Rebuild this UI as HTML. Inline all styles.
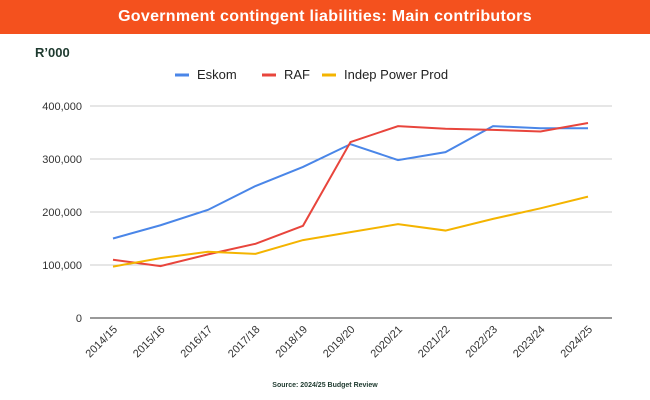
<!DOCTYPE html>
<html><head><meta charset="utf-8"><style>
body{margin:0;background:#fff;font-family:"Liberation Sans",sans-serif}
#wrap{width:650px;height:400px;position:relative;overflow:hidden;background:#fff}
#hdr{position:absolute;left:0;top:0;width:650px;height:34px;background:#f4511e;color:#fff;font-weight:bold;font-size:16px;line-height:34px;text-align:center;letter-spacing:.3px}
</style></head><body>
<div id="wrap">
<div id="hdr">Government contingent liabilities: Main contributors</div>
<svg id="svg" width="650" height="400" style="position:absolute;left:0;top:0"></svg>
</div>
<script>
const categories=["2014/15","2015/16","2016/17","2017/18","2018/19","2019/20","2020/21","2021/22","2022/23","2023/24","2024/25"];
const eskom=[150000,175000,204000,249000,285000,328000,298000,313000,362000,358000,358000];
const raf=[110000,98000,120000,140000,174000,332000,362000,357000,355000,352000,368000];
const ipp=[97000,113000,125000,121000,147000,162000,177000,165000,187000,207000,229000];
const yTicks=[0,100000,200000,300000,400000];
const yTickLabels=["0","100,000","200,000","300,000","400,000"];
const seriesNames=["Eskom","RAF","Indep Power Prod"];
const colors=["#4a86e8","#e8453c","#f4b400"];
const svg=document.getElementById('svg');const NS="http://www.w3.org/2000/svg";
const x0=113,x1=588,y0=318,yScale=53/100000;
const X=i=>x0+i*(x1-x0)/(categories.length-1);
const Y=v=>y0-v*yScale;
function mk(t,a){const e=document.createElementNS(NS,t);for(const k in a)e.setAttribute(k,a[k]);svg.appendChild(e);return e;}
let t=mk('text',{x:35,y:57,'font-size':13,fill:'#1e3a2f','font-weight':'bold'});t.textContent="R’000";


yTicks.forEach((v,i)=>{
 const l=mk('line',{x1:90,x2:612,y1:Y(v),y2:Y(v),stroke:i==0?'#333':'#ccc','stroke-width':1});
 
 
 const tx=mk('text',{x:82,y:Y(v)+4,'font-size':11,fill:'#333','text-anchor':'end'});tx.textContent=yTickLabels[i];
 
 
});
categories.forEach((c,i)=>{
 const tx=mk('text',{x:X(i)+5,y:330,'font-size':11,fill:'#333','text-anchor':'end',transform:`rotate(-45 ${X(i)+5} 330)`});tx.textContent=c;
 
 
});
[eskom,raf,ipp].forEach((s,k)=>{
 const p=mk('polyline',{points:s.map((v,i)=>X(i)+','+Y(v)).join(' '),fill:'none',stroke:colors[k],'stroke-width':2});
 
 
});
const legX=[175,262,322];
seriesNames.forEach((n,k)=>{
 const g=mk('g',{});
 
 
 const l=document.createElementNS(NS,'line');l.setAttribute('x1',legX[k]);l.setAttribute('x2',legX[k]+14);l.setAttribute('y1',75);l.setAttribute('y2',75);l.setAttribute('stroke',colors[k]);l.setAttribute('stroke-width',3);g.appendChild(l);
 const tx=document.createElementNS(NS,'text');tx.setAttribute('x',legX[k]+22);tx.setAttribute('y',79);tx.setAttribute('font-size',13);tx.setAttribute('fill','#222');tx.textContent=n;g.appendChild(tx);
});
t=mk('text',{x:325,y:387,'font-size':7,'font-weight':'bold',fill:'#1e3a2f','text-anchor':'middle'});t.textContent="Source: 2024/25 Budget Review";


</script>
</body></html>
